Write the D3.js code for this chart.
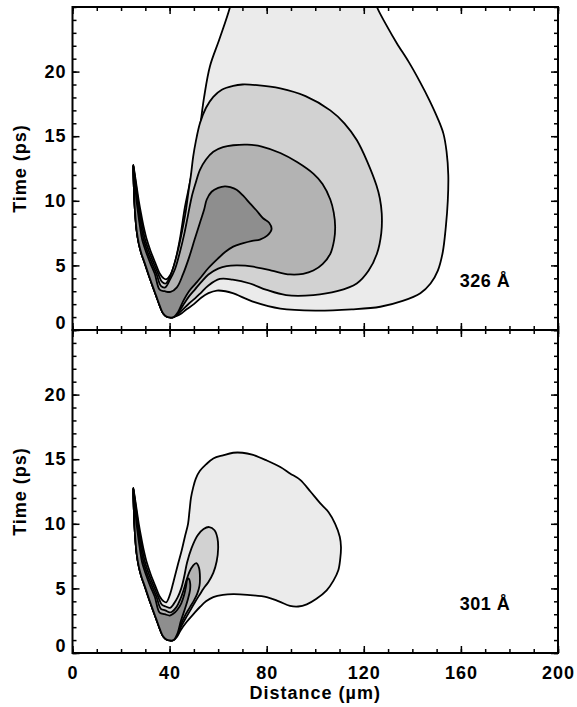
<!DOCTYPE html>
<html>
<head>
<meta charset="utf-8">
<script src="https://cdn.jsdelivr.net/npm/d3@7"></script>
<style>
body{margin:0;background:#fff;}
text{font-family:"Liberation Sans",Arial,sans-serif;font-weight:bold;fill:#000;}
.tick text{font-size:18px;letter-spacing:1px;}
</style>
</head>
<body>
<svg id="chart" width="577" height="707"></svg>
<script>
width = 577;
height = 707;
left = 72.5;
right = 558;

xTicks = [0, 40, 80, 120, 160, 200];
yTicks = [0, 5, 10, 15, 20];
panelLabels = ['326 Å', '301 Å'];
levelFills = ['#ebebeb', '#d2d2d2', '#b3b3b3', '#8e8e8e'];

// left arm of the V, tip down to the bottom (shared by every level)
armOuter = [[25.0,12.75],[25.2,11.5],[25.5,10.0],[25.9,8.8],[26.4,7.75],[27.3,6.7],[28.4,5.9],[29.8,5.16],[31.5,4.2],[33.2,3.3],[34.6,2.58],[36.0,1.85],[37.3,1.3],[38.7,1.05],[40.1,0.97],[41.6,1.0]];

// inner side of the arm, notch back up to the tip, one per level
armInner1 = [[38.6,3.92],[37.4,4.02],[36.0,4.35],[34.1,5.2],[32.2,6.1],[30.6,7.0],[29.3,8.0],[28.25,9.0],[27.3,10.0],[26.5,11.0],[25.7,12.0],[25.2,12.6]];
armInner2 = [[38.4,3.6],[36.9,3.72],[35.3,4.35],[33.4,5.2],[31.5,6.1],[29.9,7.0],[28.8,8.0],[27.85,9.0],[27.0,10.0],[26.3,11.0],[25.6,12.0],[25.15,12.6]];
armInner3 = [[38.2,3.3],[36.4,3.42],[34.6,4.35],[32.7,5.2],[30.8,6.1],[29.3,7.0],[28.3,8.0],[27.45,9.0],[26.7,10.0],[26.1,11.0],[25.5,12.0],[25.1,12.6]];
armInner4 = [[38.0,3.0],[35.9,3.12],[33.9,4.35],[32.0,5.2],[30.2,6.1],[28.7,7.0],[27.8,8.0],[27.05,9.0],[26.4,10.0],[25.9,11.0],[25.4,12.0],[25.05,12.65]];

// 326 A lobes
top1 = [[43.2,1.1],[45,1.3],[47,1.6],[50,2.0],[53,2.5],[56,2.85],[59.5,3.05],[63,3.0],[66,2.85],[75,2.15],[85.6,1.65],[100,1.5],[115,1.6],[126.8,1.8],[136,2.25],[143.3,2.85],[147.5,3.6],[150.5,4.6],[152.5,6.0],[153.8,8.0],[154.6,10.0],[154.8,12.0],[154.1,13.8],[152.8,15.2],[150.4,16.4],[147,17.8],[143.3,19.15],[138.5,20.75],[133.6,22.2],[129.3,23.6],[125.4,25],[121,27.5],[68,27.5],[64.9,25],[60.5,22.5],[56.6,20.4],[54.2,18],[52.5,15.7],[50.8,13.8],[49.1,12.1],[47.6,10.7],[46.3,9.5],[44.2,7.0],[42.4,5.4],[40.4,4.3]];
top2 = [[43.3,1.2],[45.5,1.6],[48,2.05],[50.5,2.45],[53,2.9],[56,3.45],[60.7,3.95],[66,3.9],[73.1,3.6],[80,3.1],[88,2.7],[99.2,2.7],[109,3.0],[117.1,3.6],[122,4.6],[125.4,5.9],[127.2,7.5],[127.4,9.0],[126.6,10.2],[125.2,11.2],[121.5,13.0],[117.1,14.7],[112,16.0],[106.2,17.0],[96,18.1],[85.6,18.7],[76,18.95],[70,19],[66.2,18.9],[61.5,18.6],[58,18.05],[55,17.2],[52.5,16],[50.8,14.6],[49.7,13.4],[48.8,12],[47.7,10.6],[46.5,9.0],[45.2,7.7],[43.5,6.2],[41.8,5.0],[40.1,4.1]];
top3 = [[43.4,1.3],[45.5,1.9],[48,2.6],[50.5,3.15],[53,3.7],[56,4.3],[60,4.75],[63.5,4.95],[68,5.0],[74.5,4.9],[82,4.6],[89.6,4.3],[95,4.35],[99.2,4.6],[103,5.1],[106.2,5.9],[107.8,7.0],[108.2,8.0],[107.6,9.1],[106.2,10.1],[103,11.3],[99.2,12.1],[92.5,13.0],[85.6,13.7],[78,14.2],[72,14.35],[66.2,14.3],[62,14.15],[58,13.8],[55,13.2],[52.5,12.4],[50.6,11.3],[49.1,10.3],[47.5,8.8],[46,7.4],[44.2,6.0],[42.2,4.7],[39.9,3.8]];
top4 = [[43.5,1.4],[45.5,2.2],[48,3.0],[50.5,3.55],[53,4.1],[56,4.8],[60,5.55],[63,6.05],[66.2,6.45],[70,6.7],[74,6.9],[77.2,7.0],[80.2,7.3],[82.0,7.8],[81.0,8.3],[78.5,8.65],[75.8,9.25],[73.1,9.8],[70.3,10.4],[67.6,10.85],[65,11.05],[62.8,11.12],[60,11.0],[57.3,10.7],[55.3,10.1],[54.2,9.3],[52.5,8.3],[50.3,7.0],[48,5.6],[45.5,4.3],[43,3.3],[40.4,2.95]];

// 301 A lobes
bot1 = [[43.0,1.25],[44.5,1.75],[47,2.4],[50,3.05],[52.5,3.56],[55,4.0],[58,4.33],[62,4.5],[66.2,4.55],[72,4.5],[80,4.33],[85,4.0],[89.6,3.65],[93,3.6],[96.5,3.77],[100.5,4.2],[104.7,4.85],[107.5,5.6],[109.5,6.4],[110.3,7.3],[110.6,8.2],[110.1,9.0],[108.2,10.0],[105.5,10.9],[102,11.6],[98,12.5],[93.8,13.4],[89.6,13.9],[85.6,14.4],[80,14.9],[74,15.35],[70,15.5],[66.2,15.5],[62,15.3],[58,15.05],[55,14.6],[52.5,14.1],[50.8,13.5],[49.7,12.8],[48.8,12.0],[48.2,11.0],[47.6,10.0],[46.3,9.0],[45,7.95],[43.5,6.9],[41.7,5.6],[40.1,4.5]];
bot2 = [[43.1,1.35],[44.5,1.95],[46.5,2.65],[48.5,3.3],[50.5,3.95],[52.5,4.55],[54,5.0],[56,5.5],[58,6.2],[59.4,7.1],[60,8.1],[59.7,8.9],[58.5,9.5],[56.3,9.75],[54,9.6],[51.5,9.1],[49,8.1],[47.2,7.0],[46.0,5.9],[44.8,5.0],[43.3,4.3],[41.7,3.8],[40.2,3.5]];
bot3 = [[43.2,1.45],[44.6,2.2],[46.5,2.95],[48.4,3.55],[50,4.05],[51.4,4.6],[52.3,5.2],[52.5,5.9],[52.1,6.6],[51.0,6.95],[49.6,6.75],[48.2,6.3],[46.9,5.6],[45.8,4.9],[44.5,4.2],[42.8,3.55],[41,3.2],[40.1,3.15]];
bot4 = [[43.3,1.55],[44.6,2.45],[46.3,3.4],[47.6,4.2],[48.4,4.85],[48.5,5.35],[48.1,5.7],[47.6,5.78],[47.2,5.65],[46.8,5.2],[46.0,4.5],[44.8,3.85],[43.2,3.35],[41.6,3.05],[40.1,2.9]];

armInner = [armInner1, armInner2, armInner3, armInner4];
panels = [
	{top: 7, bottom: 330, lobes: [top1, top2, top3, top4], label: panelLabels[0]},
	{top: 330, bottom: 653, lobes: [bot1, bot2, bot3, bot4], label: panelLabels[1]}
];

svg = d3.select('#chart');
x = d3.scaleLinear().domain([0, 200]).range([left, right]);

function levelShape(lobe, k){
	return armOuter.concat(lobe, armInner[k]);
}

function drawAxes(g, y, p, last){
	let minorY = d3.range(0, 26, 1);
	let minorX = d3.range(0, 201, 10);
	let ax = [
		[d3.axisLeft(y).tickValues(yTicks).tickSizeInner(-7).tickPadding(6), `translate(${left},0)`],
		[d3.axisLeft(y).tickValues(minorY).tickSizeInner(-4).tickFormat(''), `translate(${left},0)`],
		[d3.axisRight(y).tickValues(yTicks).tickSizeInner(-7).tickFormat(''), `translate(${right},0)`],
		[d3.axisRight(y).tickValues(minorY).tickSizeInner(-4).tickFormat(''), `translate(${right},0)`],
		[d3.axisTop(x).tickValues(xTicks).tickSizeInner(-7).tickFormat(''), `translate(0,${p.top})`],
		[d3.axisTop(x).tickValues(minorX).tickSizeInner(-4).tickFormat(''), `translate(0,${p.top})`],
		[d3.axisBottom(x).tickValues(xTicks).tickSizeInner(-7).tickPadding(13), `translate(0,${p.bottom})`],
		[d3.axisBottom(x).tickValues(minorX).tickSizeInner(-4).tickFormat(''), `translate(0,${p.bottom})`]
	];
	ax.forEach(function(a, i){
		let ag = g.append('g').attr('transform', a[1]).call(a[0].tickSizeOuter(0));
		ag.select('.domain').remove();
		ag.selectAll('.tick line').attr('stroke', '#000').attr('stroke-width', 1.5);
		if(i == 6 && !last)
			ag.selectAll('.tick text').remove();
		if(i == 0)
			ag.selectAll('.tick text').filter(d => d == 0).attr('y', -7);
	});
}

panels.forEach(function(p, i){
	let y = d3.scaleLinear().domain([0, 25]).range([p.bottom, p.top]);
	let g = svg.append('g');

	g.append('clipPath').attr('id', 'clip' + i)
		.append('rect')
		.attr('x', left).attr('y', p.top)
		.attr('width', right - left).attr('height', p.bottom - p.top);

	let line = d3.line()
		.x(d => x(d[0]))
		.y(d => y(d[1]))
		.curve(d3.curveCatmullRomClosed.alpha(0.5));

	g.append('g').attr('clip-path', `url(#clip${i})`)
		.selectAll('path')
		.data(p.lobes)
		.enter().append('path')
			.attr('d', (d, k) => line(levelShape(d, k)))
			.attr('fill', (d, k) => levelFills[k])
			.attr('stroke', '#000')
			.attr('stroke-width', 1.8)
			.attr('stroke-linejoin', 'round');

	drawAxes(g, y, p, i == panels.length - 1);

	g.append('rect')
		.attr('x', left).attr('y', p.top)
		.attr('width', right - left).attr('height', p.bottom - p.top)
		.attr('fill', 'none')
		.attr('stroke', '#000')
		.attr('stroke-width', 2);

	g.append('text')
		.attr('x', x(159.5))
		.attr('y', y(3.3))
		.style('font-size', '18px')
		.style('letter-spacing', '0.5px')
		.text(p.label);

	g.append('text')
		.attr('transform', `translate(26,${(p.top + p.bottom) / 2}) rotate(-90)`)
		.attr('text-anchor', 'middle')
		.style('font-size', '18px')
		.style('letter-spacing', '1px')
		.text('Time (ps)');
});

svg.append('text')
	.attr('x', x(100))
	.attr('y', 699)
	.attr('text-anchor', 'middle')
	.style('font-size', '18px')
	.style('letter-spacing', '1px')
	.text('Distance (µm)');
</script>
</body>
</html>
